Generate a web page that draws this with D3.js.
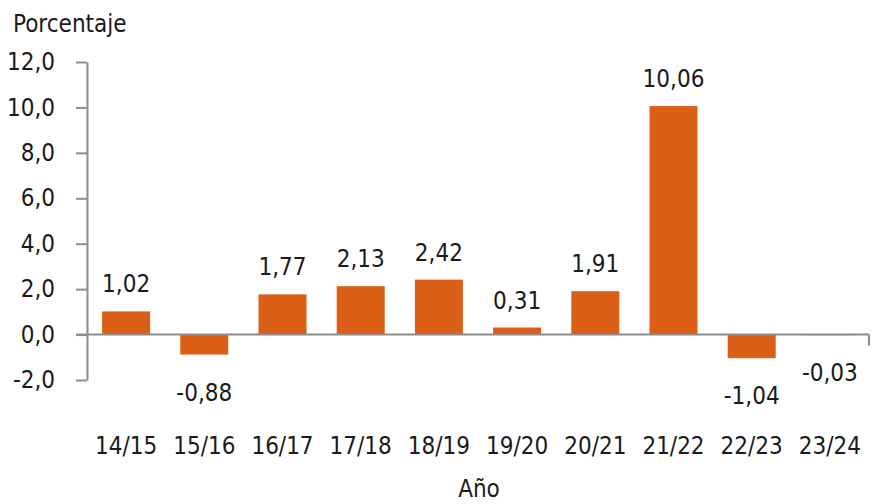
<!DOCTYPE html>
<html>
<head>
<meta charset="utf-8">
<script src="https://cdn.jsdelivr.net/npm/d3@7"></script>
<style>
  body { margin: 0; background: #fff; }
  text { font-family: "DejaVu Sans Condensed", "Liberation Sans Narrow", sans-serif; fill: #1a1a1a; }
</style>
</head>
<body>
<svg id="chart"></svg>
<script>
// Chart data
const years = ["14/15", "15/16", "16/17", "17/18", "18/19", "19/20", "20/21", "21/22", "22/23", "23/24"];
const values = [1.02, -0.88, 1.77, 2.13, 2.42, 0.31, 1.91, 10.06, -1.04, -0.03];
const yTicks = [-2, 0, 2, 4, 6, 8, 10, 12];

const width = 879, height = 504;
const margin = {left: 87};
const plotRight = 869;
const fontSize = "24px";

// Spanish style numbers: comma decimal, plain hyphen minus
const fmt1 = v => d3.format(".1f")(v).replace("\u2212", "-").replace(".", ",");
const fmt2 = v => d3.format(".2f")(v).replace("\u2212", "-").replace(".", ",");

const svg = d3.select("#chart")
    .attr("width", width)
    .attr("height", height);

const x = d3.scaleBand()
    .domain(years)
    .range([margin.left, plotRight])
    .paddingInner(0.386)
    .paddingOuter(0.193);

const y = d3.scaleLinear()
    .domain([-2, 12])
    .range([380, 62]);

// Y axis
const yAxis = d3.axisLeft(y)
    .tickValues(yTicks)
    .tickFormat(fmt1)
    .tickSize(11)
    .tickPadding(21)
    .tickSizeOuter(0);

const yAxisG = svg.append("g")
    .attr("transform", `translate(${margin.left},0)`)
    .call(yAxis);
yAxisG.select(".domain").attr("stroke", "#8c8c8c").attr("stroke-width", 2);
yAxisG.selectAll(".tick line").attr("stroke", "#8c8c8c").attr("stroke-width", 2);
yAxisG.selectAll(".tick text")
    .style("font-size", fontSize)
    .attr("fill", "#1a1a1a");

// Bars
svg.append("g")
    .selectAll("rect")
    .data(values)
    .join("rect")
    .attr("x", (d, i) => x(years[i]))
    .attr("width", x.bandwidth())
    .attr("y", d => y(Math.max(0, d)))
    .attr("height", d => Math.abs(y(d) - y(0)))
    .attr("fill", "#dc5f17");

// Zero line with end tick
svg.append("line")
    .attr("x1", margin.left - 11)
    .attr("x2", plotRight)
    .attr("y1", y(0))
    .attr("y2", y(0))
    .attr("stroke", "#8c8c8c")
    .attr("stroke-width", 2);
svg.append("line")
    .attr("x1", plotRight)
    .attr("x2", plotRight)
    .attr("y1", y(0))
    .attr("y2", y(0) + 11)
    .attr("stroke", "#8c8c8c")
    .attr("stroke-width", 2);

// Value labels
svg.append("g")
    .selectAll("text")
    .data(values)
    .join("text")
    .attr("x", (d, i) => x(years[i]) + x.bandwidth() / 2)
    .attr("y", d => d >= 0 ? y(d) - 19 : y(d) + 46)
    .attr("text-anchor", "middle")
    .style("font-size", fontSize)
    .text(fmt2);

// Category labels
svg.append("g")
    .selectAll("text")
    .data(years)
    .join("text")
    .attr("x", d => x(d) + x.bandwidth() / 2)
    .attr("y", 454)
    .attr("text-anchor", "middle")
    .style("font-size", fontSize)
    .text(d => d);

// Axis titles
svg.append("text")
    .attr("x", 13)
    .attr("y", 32)
    .style("font-size", fontSize)
    .text("Porcentaje");

svg.append("text")
    .attr("x", 479)
    .attr("y", 497)
    .attr("text-anchor", "middle")
    .style("font-size", fontSize)
    .text("Año");
</script>
</body>
</html>
